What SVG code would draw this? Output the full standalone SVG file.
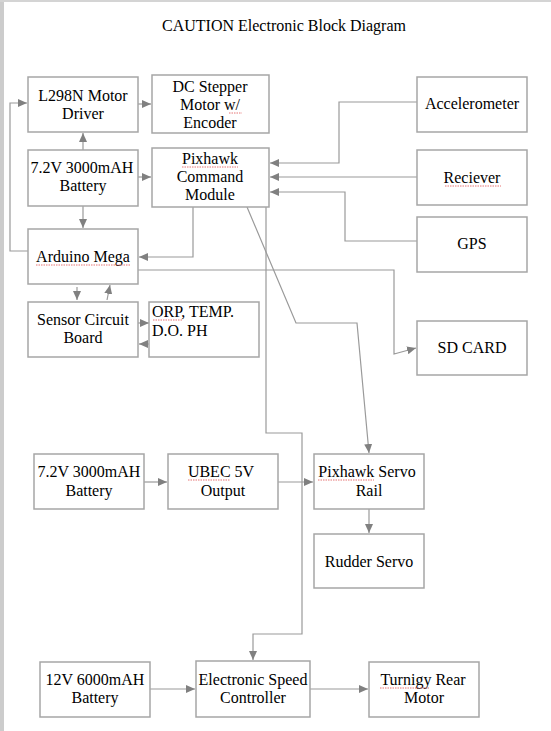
<svg xmlns="http://www.w3.org/2000/svg" width="551" height="731" viewBox="0 0 551 731">
<style>
.box{fill:#fff;stroke:#a6a6a6;stroke-width:1.5}
.t{font-family:"Liberation Serif","Times New Roman",serif;font-size:16px;fill:#000;text-anchor:middle}
.tl{text-anchor:start}
.c{fill:none;stroke:#9a9a9a;stroke-width:1.2}
.sq{fill:none;stroke:#e05050;stroke-width:0.8;stroke-dasharray:1.5 1}
</style>
<defs>
<marker id="ah" markerWidth="10" markerHeight="8" refX="9" refY="4" orient="auto" markerUnits="userSpaceOnUse">
<path d="M0,0 L9,4 L0,8 Z" fill="#808080"/>
</marker>
</defs>
<rect x="0" y="0" width="551" height="731" fill="#fff"/>
<rect x="0" y="0" width="4" height="731" fill="#cccccc"/>
<rect x="0" y="0" width="551" height="2" fill="#d4d4d4"/>
<text class="t" x="284" y="31">CAUTION Electronic Block Diagram</text>

<g id="connectors">
<path class="c" d="M138,104 L151,104" marker-end="url(#ah)"/>
<path class="c" d="M83,150 L83,133" marker-end="url(#ah)"/>
<path class="c" d="M138,177 L151,177" marker-end="url(#ah)"/>
<path class="c" d="M83,206 L83,228" marker-end="url(#ah)"/>
<path class="c" d="M28,251 L10,251 L10,103 L27,103" marker-end="url(#ah)"/>
<path class="c" d="M193,207 L193,257 L139,257" marker-end="url(#ah)"/>
<path class="c" d="M138,270 L394,270 L394,354 L416,348" marker-end="url(#ah)"/>
<path class="c" d="M417,102 L339,102 L339,163 L270,163" marker-end="url(#ah)"/>
<path class="c" d="M417,177 L270,177" marker-end="url(#ah)"/>
<path class="c" d="M417,241 L345,241 L345,192 L270,192" marker-end="url(#ah)"/>
<path class="c" d="M77,287 L77,300" marker-end="url(#ah)"/>
<path class="c" d="M107,300 L110,285" marker-end="url(#ah)"/>
<path class="c" d="M138,323 L149,323" marker-end="url(#ah)"/>
<path class="c" d="M150,344 L139,344" marker-end="url(#ah)"/>
<path class="c" d="M247,207 L296,323 L357,323 L369,453" marker-end="url(#ah)"/>
<path class="c" d="M266,207 L266,433 L302,433 L302,634 L253,634 L253,660" marker-end="url(#ah)"/>
<path class="c" d="M144,482 L167,482" marker-end="url(#ah)"/>
<path class="c" d="M278,482 L313,482" marker-end="url(#ah)"/>
<path class="c" d="M369,509 L369,533" marker-end="url(#ah)"/>
<path class="c" d="M150,689 L195,689" marker-end="url(#ah)"/>
<path class="c" d="M310,689 L368,689" marker-end="url(#ah)"/>
</g>

<g id="l298n"><rect class="box" x="28" y="77" width="110" height="55"/>
<text class="t" x="83" y="101">L298N Motor</text><text class="t" x="83" y="119">Driver</text></g>

<g id="dc-stepper"><rect class="box" x="152" y="75" width="117" height="58"/>
<text class="t" x="210" y="92">DC Stepper</text><text class="t" x="210" y="110">Motor w/</text><text class="t" x="210" y="128">Encoder</text>
<path class="sq" d="M229,113 L242,113"/></g>

<g id="battery1"><rect class="box" x="28" y="150" width="110" height="56"/>
<text class="t" x="82" y="173">7.2V 3000mAH</text><text class="t" x="83" y="191">Battery</text></g>

<g id="pixhawk-cmd"><rect class="box" x="152" y="148" width="117" height="59"/>
<text class="t" x="210" y="164">Pixhawk</text><text class="t" x="210" y="182">Command</text><text class="t" x="210" y="200">Module</text>
<path class="sq" d="M182,167 L238,167"/></g>

<g id="arduino"><rect class="box" x="28" y="229" width="110" height="55"/>
<text class="t" x="83" y="262">Arduino Mega</text>
<path class="sq" d="M36,265 L131,265"/></g>

<g id="sensor-board"><rect class="box" x="28" y="302" width="110" height="55"/>
<text class="t" x="83" y="325">Sensor Circuit</text><text class="t" x="83" y="343">Board</text></g>

<g id="orp"><rect class="box" x="149" y="302" width="110" height="55"/>
<text class="t tl" x="152" y="317">ORP, TEMP.</text><text class="t tl" x="152" y="336">D.O. PH</text>
<path class="sq" d="M153,320 L182,320"/></g>

<g id="accelerometer"><rect class="box" x="417" y="77" width="110" height="55"/>
<text class="t" x="472" y="109">Accelerometer</text></g>

<g id="reciever"><rect class="box" x="417" y="150" width="110" height="55"/>
<text class="t" x="472" y="183">Reciever</text>
<path class="sq" d="M445,186 L501,186"/></g>

<g id="gps"><rect class="box" x="417" y="217" width="110" height="55"/>
<text class="t" x="472" y="249">GPS</text></g>

<g id="sd-card"><rect class="box" x="417" y="321" width="110" height="54"/>
<text class="t" x="472" y="353">SD CARD</text></g>

<g id="battery2"><rect class="box" x="34" y="454" width="110" height="55"/>
<text class="t" x="89" y="477">7.2V 3000mAH</text><text class="t" x="89" y="496">Battery</text></g>

<g id="ubec"><rect class="box" x="168" y="454" width="110" height="55"/>
<text class="t" x="221" y="477">UBEC 5V</text><text class="t" x="223" y="496">Output</text>
<path class="sq" d="M188,480 L230,480"/></g>

<g id="servo-rail"><rect class="box" x="314" y="454" width="110" height="55"/>
<text class="t" x="367" y="477">Pixhawk Servo</text><text class="t" x="369" y="496">Rail</text>
<path class="sq" d="M318,480 L374,480"/></g>

<g id="rudder"><rect class="box" x="314" y="534" width="110" height="54"/>
<text class="t" x="369" y="567">Rudder Servo</text></g>

<g id="battery3"><rect class="box" x="40" y="662" width="110" height="55"/>
<text class="t" x="95" y="685">12V 6000mAH</text><text class="t" x="95" y="703">Battery</text></g>

<g id="esc"><rect class="box" x="196" y="661" width="114" height="56"/>
<text class="t" x="253" y="685">Electronic Speed</text><text class="t" x="253" y="703">Controller</text></g>

<g id="turnigy"><rect class="box" x="369" y="662" width="110" height="55"/>
<text class="t" x="423" y="685">Turnigy Rear</text><text class="t" x="424" y="703">Motor</text>
<path class="sq" d="M380,688 L430,688"/></g>
</svg>
